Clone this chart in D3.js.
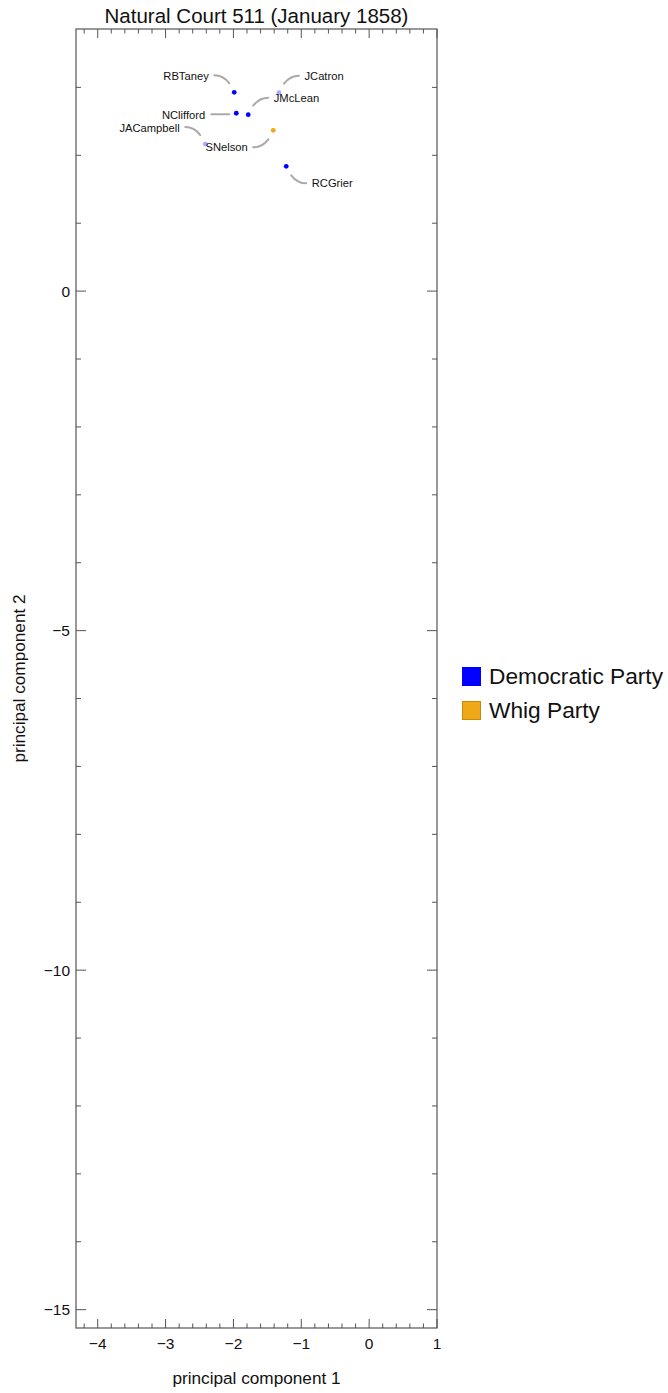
<!DOCTYPE html>
<html><head><meta charset="utf-8">
<script src="https://cdn.jsdelivr.net/npm/d3@7"></script>
<style>
html,body{margin:0;padding:0;background:#fff;}
svg{display:block;font-family:"Liberation Sans",Arial,sans-serif;}
</style></head>
<body>
<script>
// ---- data ----
const justices = ["RBTaney","JCatron","NClifford","JMcLean","SNelson","JACampbell","RCGrier"];
const pc1 = [-1.988,-1.329,-1.958,-1.782,-1.413,-2.415,-1.222];
const pc2 = [2.928,2.922,2.619,2.598,2.368,2.166,1.838];
const party = ["Democratic Party","Democratic Party","Democratic Party","Democratic Party","Whig Party","Democratic Party","Democratic Party"];
const faded = [false,true,false,false,false,true,false];
const parties = ["Democratic Party","Whig Party"];
const xTicks = [-4,-3,-2,-1,0,1];
const yTicks = [0,-5,-10,-15];
const title = "Natural Court 511 (January 1858)";

// ---- layout ----
const W = 668, H = 1393;
const L = 76, R = 437, T = 29, B = 1328;
const colors = {"Democratic Party":"#0000ff","Whig Party":"#f0a818"};
const legendStroke = {"Democratic Party":"#0000ff","Whig Party":"#c88a00"};
// label placement direction (sx, sy) relative to point; "h" = horizontal leader
const labelDir = [[-1,-1],[1,-1],["h",-1],[1,-1],[-1,1],[-1,-1],[1,1]];

const svg = d3.select("body").append("svg").attr("width",W).attr("height",H);
const x = d3.scaleLinear().domain([-4.32,1.0]).range([L,R]);
const y = d3.scaleLinear().domain([-15.27,3.86]).range([B,T]);

const axisColor = "#555";
const g = svg.append("g");

// frame
g.append("rect").attr("x",L).attr("y",T).attr("width",R-L).attr("height",B-T)
  .attr("fill","none").attr("stroke",axisColor).attr("stroke-width",1.2);

// x ticks (bottom & top)
const xMinor = d3.range(-4.2,1.0001,0.2).map(v=>+v.toFixed(1));
xMinor.forEach(v=>{
  const major = Math.abs(v-Math.round(v))<1e-6;
  const len = major?9:4.5;
  const px = x(v);
  g.append("line").attr("x1",px).attr("x2",px).attr("y1",B).attr("y2",B-len).attr("stroke",axisColor);
  g.append("line").attr("x1",px).attr("x2",px).attr("y1",T).attr("y2",T+len).attr("stroke",axisColor);
});
// y ticks (left & right)
d3.range(-15,4,1).forEach(v=>{
  const major = v%5===0;
  const len = major?10:5;
  const py = y(v);
  g.append("line").attr("x1",L).attr("x2",L+len).attr("y1",py).attr("y2",py).attr("stroke",axisColor);
  g.append("line").attr("x1",R).attr("x2",R-len).attr("y1",py).attr("y2",py).attr("stroke",axisColor);
});

const fmt = d3.format("d");
g.selectAll(".xt").data(xTicks).enter().append("text")
  .attr("x",d=>x(d)).attr("y",B+21).attr("text-anchor","middle")
  .attr("font-size",15.5).attr("fill","#111").text(d=>fmt(d));
g.selectAll(".yt").data(yTicks).enter().append("text")
  .attr("x",L-6).attr("y",d=>y(d)).attr("dy","0.35em").attr("text-anchor","end")
  .attr("font-size",15.5).attr("fill","#111").text(d=>fmt(d));

// axis titles
svg.append("text").attr("x",(L+R)/2).attr("y",1384).attr("text-anchor","middle")
  .attr("font-size",17.2).attr("fill","#111").text("principal component 1");
svg.append("text").attr("transform",`translate(25,${(T+B)/2}) rotate(-90)`)
  .attr("text-anchor","middle").attr("font-size",17.2).attr("fill","#111").text("principal component 2");

// title
svg.append("text").attr("x",(L+R)/2).attr("y",23).attr("text-anchor","middle")
  .attr("font-size",20.5).attr("fill","#111").text(title);

// leaders + labels
const idx = d3.range(justices.length);
idx.forEach(i=>{
  const px = x(pc1[i]), py = y(pc2[i]);
  const d = labelDir[i];
  let path, lx, ly, anchor;
  if(d[0]==="h"){
    const s = d[1];
    path = `M${px+s*7},${py+1}L${px+s*25},${py+1}`;
    lx = px+s*31; ly = py+1.5; anchor = s<0?"end":"start";
  } else {
    const sx=d[0], sy=d[1];
    path = `M${px+sx*5},${py+sy*9}Q${px+sx*11},${py+sy*17} ${px+sx*20},${py+sy*17}`;
    lx = px+sx*25.5; ly = py+sy*16.3; anchor = sx<0?"end":"start";
  }
  svg.append("path").attr("d",path).attr("fill","none").attr("stroke","#aaaaaa")
    .attr("stroke-width",2).attr("stroke-linecap","round");
  svg.append("text").attr("x",lx).attr("y",ly).attr("dy","0.35em").attr("text-anchor",anchor)
    .attr("font-size",11.2).attr("fill","#111").text(justices[i]);
});

// points
svg.selectAll(".pt").data(idx).enter().append("circle")
  .attr("cx",i=>x(pc1[i])).attr("cy",i=>y(pc2[i])).attr("r",2.4)
  .attr("fill",i=>colors[party[i]]).attr("fill-opacity",i=>faded[i]?0.33:1);

// legend
const lg = svg.append("g").attr("transform","translate(462,667)");
parties.forEach((p,k)=>{
  lg.append("rect").attr("x",0.5).attr("y",k*34+0.5).attr("width",18).attr("height",18)
    .attr("fill",colors[p]).attr("stroke",legendStroke[p]).attr("stroke-width",1);
  lg.append("text").attr("x",27).attr("y",k*34+9.5).attr("dy","0.35em")
    .attr("font-size",22.7).attr("fill","#111").text(p);
});
</script>
</body></html>
